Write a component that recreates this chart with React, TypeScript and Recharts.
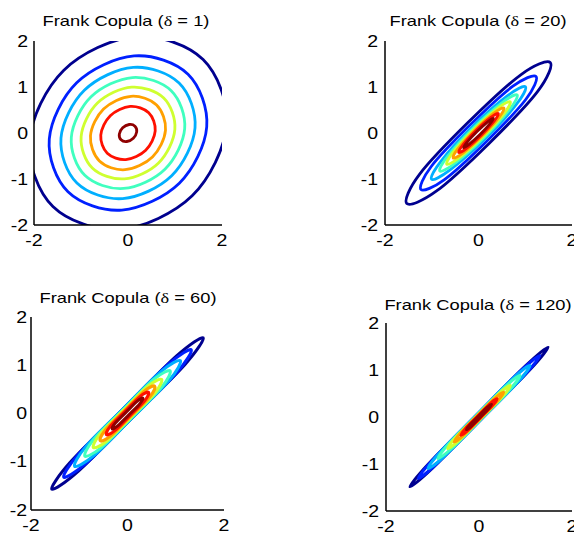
import React from 'react';
import { LineChart, Line, XAxis, YAxis } from 'recharts';

type Pt = [number, number];

const copulaDeltas = [1, 20, 60, 120];
const xTickValues = [-2, 0, 2];
const yTickValues = [-2, -1, 0, 1, 2];

// Contour lines, outermost (lowest level) to innermost.
const contoursDelta1: Pt[][] = [
  [[1.598, 1.598], [0.165, 2.095], [-1.365, 1.365], [-2.095, -0.165], [-1.598, -1.598], [-0.165, -2.095], [1.365, -1.365], [2.095, 0.165]],
  [[1.277, 1.277], [0.131, 1.675], [-1.092, 1.092], [-1.675, -0.131], [-1.277, -1.277], [-0.131, -1.675], [1.092, -1.092], [1.675, 0.131]],
  [[1.087, 1.087], [0.112, 1.426], [-0.929, 0.929], [-1.426, -0.112], [-1.087, -1.087], [-0.112, -1.426], [0.929, -0.929], [1.426, 0.112]],
  [[0.919, 0.919], [0.094, 1.206], [-0.786, 0.786], [-1.206, -0.094], [-0.919, -0.919], [-0.094, -1.206], [0.786, -0.786], [1.206, 0.094]],
  [[0.76, 0.76], [0.078, 0.997], [-0.65, 0.65], [-0.997, -0.078], [-0.76, -0.76], [-0.078, -0.997], [0.65, -0.65], [0.997, 0.078]],
  [[0.608, 0.608], [0.063, 0.798], [-0.52, 0.52], [-0.798, -0.063], [-0.608, -0.608], [-0.063, -0.798], [0.52, -0.52], [0.798, 0.063]],
  [[0.441, 0.441], [0.046, 0.579], [-0.377, 0.377], [-0.579, -0.046], [-0.441, -0.441], [-0.046, -0.579], [0.377, -0.377], [0.579, 0.046]],
  [[0.148, 0.148], [0.025, 0.185], [-0.113, 0.113], [-0.185, -0.025], [-0.148, -0.148], [-0.025, -0.185], [0.113, -0.113], [0.185, 0.025]],
];

const contoursDelta20: Pt[][] = [
  [[1.534, 1.534], [0.904, 1.266], [-0.226, 0.226], [-1.266, -0.904], [-1.534, -1.534], [-0.904, -1.266], [0.226, -0.226], [1.266, 0.904]],
  [[1.23, 1.23], [0.728, 1.011], [-0.177, 0.177], [-1.011, -0.728], [-1.23, -1.23], [-0.728, -1.011], [0.177, -0.177], [1.011, 0.728]],
  [[1.004, 1.004], [0.615, 0.805], [-0.134, 0.134], [-0.805, -0.615], [-1.004, -1.004], [-0.615, -0.805], [0.134, -0.134], [0.805, 0.615]],
  [[0.827, 0.827], [0.508, 0.663], [-0.11, 0.11], [-0.663, -0.508], [-0.827, -0.827], [-0.508, -0.663], [0.11, -0.11], [0.663, 0.508]],
  [[0.679, 0.679], [0.418, 0.543], [-0.088, 0.088], [-0.543, -0.418], [-0.679, -0.679], [-0.418, -0.543], [0.088, -0.088], [0.543, 0.418]],
  [[0.544, 0.544], [0.335, 0.435], [-0.071, 0.071], [-0.435, -0.335], [-0.544, -0.544], [-0.335, -0.435], [0.071, -0.071], [0.435, 0.335]],
  [[0.424, 0.424], [0.263, 0.338], [-0.053, 0.053], [-0.338, -0.263], [-0.424, -0.424], [-0.263, -0.338], [0.053, -0.053], [0.338, 0.263]],
  [[0.318, 0.318], [0.203, 0.248], [-0.032, 0.032], [-0.248, -0.203], [-0.318, -0.318], [-0.203, -0.248], [0.032, -0.032], [0.248, 0.203]],
];

const contoursDelta60: Pt[][] = [
  [[1.57, 1.57], [1.023, 1.197], [-0.092, 0.092], [-1.197, -1.023], [-1.57, -1.57], [-1.023, -1.197], [0.092, -0.092], [1.197, 1.023]],
  [[1.322, 1.322], [0.848, 1.022], [-0.092, 0.092], [-1.022, -0.848], [-1.322, -1.322], [-0.848, -1.022], [0.092, -0.092], [1.022, 0.848]],
  [[1.096, 1.096], [0.686, 0.864], [-0.094, 0.094], [-0.864, -0.686], [-1.096, -1.096], [-0.686, -0.864], [0.094, -0.094], [0.864, 0.686]],
  [[0.884, 0.884], [0.544, 0.706], [-0.085, 0.085], [-0.706, -0.544], [-0.884, -0.884], [-0.544, -0.706], [0.085, -0.085], [0.706, 0.544]],
  [[0.707, 0.707], [0.429, 0.571], [-0.074, 0.074], [-0.571, -0.429], [-0.707, -0.707], [-0.429, -0.571], [0.074, -0.074], [0.571, 0.429]],
  [[0.566, 0.566], [0.341, 0.459], [-0.062, 0.062], [-0.459, -0.341], [-0.566, -0.566], [-0.341, -0.459], [0.062, -0.062], [0.459, 0.341]],
  [[0.438, 0.438], [0.264, 0.356], [-0.048, 0.048], [-0.356, -0.264], [-0.438, -0.438], [-0.264, -0.356], [0.048, -0.048], [0.356, 0.264]],
  [[0.318, 0.318], [0.198, 0.252], [-0.028, 0.028], [-0.252, -0.198], [-0.318, -0.318], [-0.198, -0.252], [0.028, -0.028], [0.252, 0.198]],
];

const contoursDelta120: Pt[][] = [
  [[1.485, 1.485], [1.006, 1.094], [-0.047, 0.047], [-1.094, -1.006], [-1.485, -1.485], [-1.006, -1.094], [0.047, -0.047], [1.094, 1.006]],
  [[1.308, 1.308], [0.881, 0.969], [-0.047, 0.047], [-0.969, -0.881], [-1.308, -1.308], [-0.881, -0.969], [0.047, -0.047], [0.969, 0.881]],
  [[1.096, 1.096], [0.729, 0.821], [-0.048, 0.048], [-0.821, -0.729], [-1.096, -1.096], [-0.729, -0.821], [0.048, -0.048], [0.821, 0.729]],
  [[0.884, 0.884], [0.585, 0.665], [-0.042, 0.042], [-0.665, -0.585], [-0.884, -0.884], [-0.585, -0.665], [0.042, -0.042], [0.665, 0.585]],
  [[0.672, 0.672], [0.44, 0.51], [-0.037, 0.037], [-0.51, -0.44], [-0.672, -0.672], [-0.44, -0.51], [0.037, -0.037], [0.51, 0.44]],
  [[0.53, 0.53], [0.347, 0.403], [-0.03, 0.03], [-0.403, -0.347], [-0.53, -0.53], [-0.347, -0.403], [0.03, -0.03], [0.403, 0.347]],
  [[0.389, 0.389], [0.253, 0.297], [-0.023, 0.023], [-0.297, -0.253], [-0.389, -0.389], [-0.253, -0.297], [0.023, -0.023], [0.297, 0.253]],
  [[0.269, 0.269], [0.177, 0.203], [-0.014, 0.014], [-0.203, -0.177], [-0.269, -0.269], [-0.177, -0.203], [0.014, -0.014], [0.203, 0.177]],
];

const panelContours = [contoursDelta1, contoursDelta20, contoursDelta60, contoursDelta120];

// jet colours per level (low -> high)
const levelColors = ['#00008F', '#0020FF', '#00AFFF', '#40FFBF', '#CFFF30', '#FFA000', '#FF1000', '#8F0000'];

const FONT = '"Liberation Sans", Arial, Helvetica, sans-serif';
const SERIF = '"Liberation Serif", "DejaVu Serif", serif';
const SX = 1.22;
const TITLE_FS = 15;
const TICK_FS = 16;

const panelLayout = [
  { box: { x: 34, y: 41, w: 188, h: 184 }, titleX: 125.5, titleY: 13, bottomGap: 10, leftGap: 6, lineW: 2.8 },
  { box: { x: 385, y: 41, w: 187, h: 184 }, titleX: 478, titleY: 13, bottomGap: 10, leftGap: 7, lineW: 2.8 },
  { box: { x: 31, y: 317, w: 193, h: 193 }, titleX: 127.5, titleY: 290, bottomGap: 10, leftGap: 4, lineW: 3 },
  { box: { x: 386, y: 323, w: 186, h: 188 }, titleX: 477.5, titleY: 297, bottomGap: 10, leftGap: 7, lineW: 3 },
];

// closed Catmull-Rom curve through the contour points
function closedCatmullRom(context: any) {
  let pts: number[][] = [];
  return {
    areaStart() {},
    areaEnd() {},
    lineStart() {
      pts = [];
    },
    point(x: number, y: number) {
      pts.push([+x, +y]);
    },
    lineEnd() {
      const n = pts.length;
      if (!n) return;
      context.moveTo(pts[0][0], pts[0][1]);
      for (let i = 0; i < n; i++) {
        const p0 = pts[(i - 1 + n) % n];
        const p1 = pts[i];
        const p2 = pts[(i + 1) % n];
        const p3 = pts[(i + 2) % n];
        context.bezierCurveTo(
          p1[0] + (p2[0] - p0[0]) / 6,
          p1[1] + (p2[1] - p0[1]) / 6,
          p2[0] - (p3[0] - p1[0]) / 6,
          p2[1] - (p3[1] - p1[1]) / 6,
          p2[0],
          p2[1]
        );
      }
      context.closePath();
    },
  };
}

const BottomTick = (props: any) => {
  const { x, y, payload } = props;
  return (
    <text
      transform={`translate(${x},${y}) scale(${SX},1)`}
      x={0}
      y={0}
      dy="0.71em"
      textAnchor="middle"
      fontSize={TICK_FS}
      fontFamily={FONT}
      fill="#000"
    >
      {payload.value}
    </text>
  );
};

const LeftTick = (props: any) => {
  const { x, y, payload } = props;
  return (
    <text
      transform={`translate(${x},${y}) scale(${SX},1)`}
      x={0}
      y={0}
      dy="0.355em"
      textAnchor="end"
      fontSize={TICK_FS}
      fontFamily={FONT}
      fill="#000"
    >
      {payload.value}
    </text>
  );
};

const axisStroke = { stroke: '#000', strokeWidth: 1.5 };

function Panel({ idx }: { idx: number }) {
  const layout = panelLayout[idx];
  const contours = panelContours[idx];
  const delta = copulaDeltas[idx];
  const { box } = layout;
  const ML = 45;
  const MT = 10;
  const MR = 10;
  const MB = 40;
  const W = box.w + ML + MR;
  const H = box.h + MT + MB;
  return (
    <>
      <div
        style={{
          position: 'absolute',
          left: layout.titleX,
          top: layout.titleY,
          transform: `translateX(-50%) scaleX(${SX})`,
          fontFamily: FONT,
          fontSize: TITLE_FS,
          lineHeight: `${TITLE_FS}px`,
          whiteSpace: 'nowrap',
          color: '#000',
        }}
      >
        Frank Copula (<span style={{ fontFamily: SERIF }}>δ</span> = {delta})
      </div>
      <div style={{ position: 'absolute', left: box.x - ML, top: box.y - MT }}>
        <LineChart width={W} height={H} margin={{ top: MT, right: MR, bottom: 0, left: ML - 40 }}>
          {contours.map((pts, i) => (
            <Line
              key={i}
              xAxisId="main"
              yAxisId="main"
              data={pts.map(([x, y]) => ({ x, y }))}
              dataKey="y"
              type={closedCatmullRom as any}
              stroke={levelColors[i]}
              strokeWidth={layout.lineW}
              strokeLinejoin="round"
              dot={false}
              activeDot={false}
              isAnimationActive={false}
            />
          ))}
          <XAxis
            xAxisId="main"
            type="number"
            dataKey="x"
            domain={[-2, 2]}
            ticks={xTickValues}
            allowDataOverflow
            orientation="bottom"
            height={MB}
            axisLine={axisStroke}
            tickLine={false}
            tickSize={0}
            tickMargin={layout.bottomGap}
            tick={<BottomTick />}
            interval={0}
          />
          <YAxis
            yAxisId="main"
            type="number"
            dataKey="y"
            domain={[-2, 2]}
            ticks={yTickValues}
            allowDataOverflow
            orientation="left"
            width={40}
            axisLine={axisStroke}
            tickLine={false}
            tickSize={0}
            tickMargin={layout.leftGap}
            tick={<LeftTick />}
            interval={0}
          />
          <XAxis
            xAxisId="top"
            type="number"
            domain={[-2, 2]}
            ticks={xTickValues}
            orientation="top"
            mirror
            height={0}
            axisLine={axisStroke}
            tickLine={{ stroke: '#000', strokeWidth: 1.5 }}
            tickSize={3}
            tick={false}
            interval={0}
          />
          <XAxis
            xAxisId="bottomTicks"
            type="number"
            domain={[-2, 2]}
            ticks={xTickValues}
            orientation="bottom"
            mirror
            height={0}
            axisLine={false}
            tickLine={{ stroke: '#000', strokeWidth: 1.5 }}
            tickSize={3}
            tick={false}
            interval={0}
          />
          <YAxis
            yAxisId="right"
            type="number"
            domain={[-2, 2]}
            ticks={yTickValues}
            orientation="right"
            mirror
            width={0}
            axisLine={axisStroke}
            tickLine={{ stroke: '#000', strokeWidth: 1.5 }}
            tickSize={3}
            tick={false}
            interval={0}
          />
          <YAxis
            yAxisId="leftTicks"
            type="number"
            domain={[-2, 2]}
            ticks={yTickValues}
            orientation="left"
            mirror
            width={0}
            axisLine={false}
            tickLine={{ stroke: '#000', strokeWidth: 1.5 }}
            tickSize={3}
            tick={false}
            interval={0}
          />
        </LineChart>
      </div>
    </>
  );
}

export default function App() {
  return (
    <div
      style={{
        position: 'absolute',
        left: 0,
        top: 0,
        width: 574,
        height: 535,
        overflow: 'hidden',
        background: '#fff',
      }}
    >
      {copulaDeltas.map((_, i) => (
        <Panel key={i} idx={i} />
      ))}
    </div>
  );
}
